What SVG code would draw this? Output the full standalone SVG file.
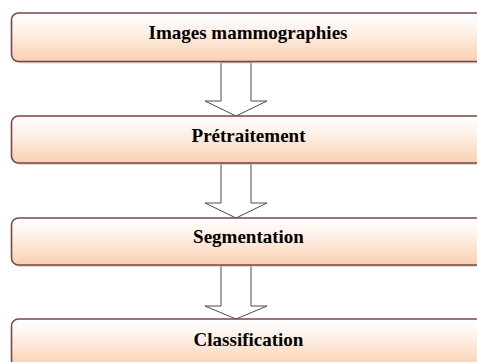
<svg xmlns="http://www.w3.org/2000/svg" width="477" height="362" viewBox="0 0 477 362">
  <defs>
    <linearGradient id="g" x1="0" y1="0" x2="0" y2="1">
      <stop offset="0" stop-color="#ffffff"/>
      <stop offset="0.35" stop-color="#fef2ea"/>
      <stop offset="1" stop-color="#f9d0b0"/>
    </linearGradient>
    <style>
      .box { fill: url(#g); stroke: #7a4646; stroke-width: 1.6; }
      .shadow { fill: #c9bfba; opacity: 0.6; }
      .lbl { font-weight: bold; font-size: 19px; fill: #000; text-anchor: middle; }
      .arrow { fill: #ffffff; stroke: #4d4d4d; stroke-width: 1; stroke-linejoin: miter; }
    </style>
  </defs>
  <rect width="477" height="362" fill="#ffffff"/>

  <g id="connectors">
    <path class="arrow" d="M221,62 L251,62 L251,101 L267,101 L236,116 L205,101 L221,101 Z"/>
    <path class="arrow" d="M221,163 L251,163 L251,203 L267,203 L236,218 L205,203 L221,203 Z"/>
    <path class="arrow" d="M221,265 L251,265 L251,306 L267,306 L236,319 L205,306 L221,306 Z"/>
  </g>

  <g id="node1">
    <rect class="shadow" x="13" y="15" width="480" height="48.5" rx="7"/>
    <rect class="box" x="11.5" y="13" width="480" height="48.5" rx="7"/>
    <text class="lbl" font-family="Liberation Serif, DejaVu Serif, serif" x="248" y="39">Images mammographies</text>
  </g>
  <g id="node2">
    <rect class="shadow" x="13" y="118" width="480" height="47" rx="7"/>
    <rect class="box" x="11.5" y="116" width="480" height="47" rx="7"/>
    <text class="lbl" font-family="Liberation Serif, DejaVu Serif, serif" x="248.5" y="141.5">Prétraitement</text>
  </g>
  <g id="node3">
    <rect class="shadow" x="13" y="220" width="480" height="47" rx="7"/>
    <rect class="box" x="11.5" y="218" width="480" height="47" rx="7"/>
    <text class="lbl" font-family="Liberation Serif, DejaVu Serif, serif" x="248.5" y="242.5">Segmentation</text>
  </g>
  <g id="node4">
    <rect class="shadow" x="13" y="321" width="480" height="48" rx="7"/>
    <rect class="box" x="11.5" y="319" width="480" height="48" rx="7"/>
    <text class="lbl" font-family="Liberation Serif, DejaVu Serif, serif" x="248.5" y="346">Classification</text>
  </g>
</svg>
